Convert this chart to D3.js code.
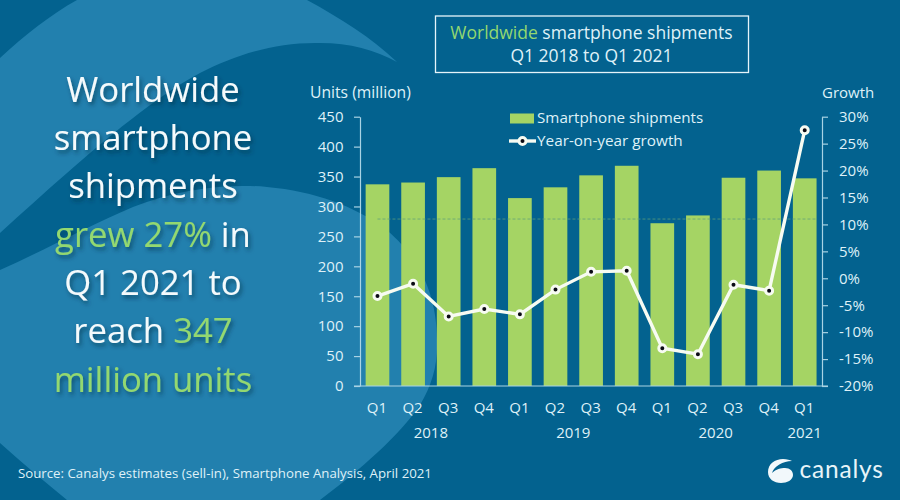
<!DOCTYPE html>
<html><head><meta charset="utf-8">
<script src="https://cdn.jsdelivr.net/npm/d3@7/dist/d3.min.js"></script>
<style>html,body{margin:0;padding:0;background:#03628f}svg{display:block}text{font-family:"Open Sans",sans-serif}</style>
</head><body><svg id="c" width="900" height="500"></svg>
<script>
const quarters=["Q1","Q2","Q3","Q4","Q1","Q2","Q3","Q4","Q1","Q2","Q3","Q4","Q1"];
const years=["2018","2018","2018","2018","2019","2019","2019","2019","2020","2020","2020","2020","2021"];
const shipments=[337,340,349,364,314,332,352,368,272,285,348,360,347];
const growth=[-3.3,-1.0,-7.1,-5.7,-6.7,-2.1,1.2,1.4,-13.0,-14.1,-1.2,-2.3,27.5];
const unitTicks=[0,50,100,150,200,250,300,350,400,450];
const growthTicks=[-20,-15,-10,-5,0,5,10,15,20,25,30];
const referenceLevel=[279];
const headline=[
 [["Worldwide",0]],[["smartphone",0]],[["shipments",0]],
 [["grew 27%",1],[" in",0]],[["Q1 2021 to",0]],[["reach ",0],["347",1]],[["million units",1]]];
const BG="#03628f",LIGHT="#2280ae",GREEN="#a5d464",TXT="#dff1f8",HL="#93d870",WHITE="#f7fbf2";

const svg=d3.select("#c");
const defs=svg.append("defs");
const f=defs.append("filter").attr("id","sh").attr("x","-10%").attr("y","-20%").attr("width","120%").attr("height","150%");
f.append("feDropShadow").attr("dx",2).attr("dy",3).attr("stdDeviation",2.2).attr("flood-color","#012a40").attr("flood-opacity",.6);

svg.append("rect").attr("width",900).attr("height",500).attr("fill",BG);
svg.append("path").attr("fill",LIGHT).attr("d",
 "M0,58 C25,35 50,15 77,0 L307,0 C340,18 372,38 397,62 C375,50 350,43 320,43 C275,42 235,55 200,73 C155,97 105,140 67,173 C45,192 22,213 0,233 Z");
svg.append("path").attr("fill",LIGHT).attr("d",
 "M0,270 C45,250 90,225 133,207 C175,190 225,183 267,187 C315,191 355,207 383,227 C415,252 437,290 437,340 C438,365 432,385 420,405 C400,435 360,470 320,500 L67,500 C45,482 22,463 0,443 Z");

const x=d3.scaleBand().domain(d3.range(quarters.length)).range([359.7,822.5]).paddingInner(.335).paddingOuter(.167);
const y=d3.scaleLinear().domain([0,450]).range([386,116.7]);
const yr=d3.scaleLinear().domain([-20,30]).range([386,116.7]);
const cx=i=>x(i)+x.bandwidth()/2;

svg.append("g").selectAll("rect").data(shipments).join("rect")
 .attr("x",(d,i)=>x(i)).attr("width",x.bandwidth()).attr("y",d=>y(d)).attr("height",d=>y(0)-y(d)).attr("fill",GREEN);

svg.append("line").attr("x1",cx(0)).attr("x2",cx(12)+12).attr("y1",y(referenceLevel[0])).attr("y2",y(referenceLevel[0]))
 .attr("stroke","#5f9f78").attr("stroke-width",1).attr("stroke-dasharray","3 2").attr("opacity",.75);

const axisStyle=g=>{g.select(".domain").attr("stroke","#a9d3e4").attr("stroke-width",1.2);
 g.selectAll(".tick line").attr("stroke","#a9d3e4").attr("stroke-width",1.2);
 g.selectAll("text").attr("fill",TXT).attr("font-size",15);};
svg.append("g").attr("transform","translate(360,0)")
 .call(d3.axisLeft(y).tickValues(unitTicks).tickSize(6).tickSizeOuter(0).tickPadding(10.5)).call(axisStyle);
svg.append("g").attr("transform","translate(822,0)")
 .call(d3.axisRight(yr).tickValues(growthTicks).tickFormat(d=>d+"%").tickSize(6).tickSizeOuter(0).tickPadding(11)).call(axisStyle);
svg.append("line").attr("x1",354).attr("x2",828).attr("y1",386).attr("y2",386).attr("stroke","#a9d3e4").attr("stroke-width",1.2);

svg.append("g").selectAll("text").data(quarters).join("text")
 .attr("x",(d,i)=>cx(i)-.5).attr("y",413).attr("text-anchor","middle").attr("fill",TXT).attr("font-size",15).text(d=>d);
const groups=d3.groups(years.map((v,i)=>[v,i]),d=>d[0]);
svg.append("g").selectAll("text").data(groups).join("text")
 .attr("x",d=>d3.mean(d[1],e=>cx(e[1]))).attr("y",438).attr("text-anchor","middle").attr("fill",TXT).attr("font-size",15).text(d=>d[0]);

const line=d3.line().x((d,i)=>cx(i)).y(d=>yr(d));
svg.append("path").attr("d",line(growth)).attr("fill","none").attr("stroke",WHITE).attr("stroke-width",3.4);
svg.append("g").selectAll("circle").data(growth).join("circle").attr("cx",(d,i)=>cx(i)).attr("cy",d=>yr(d)).attr("r",3.5)
 .attr("fill","#0a0a14").attr("stroke",WHITE).attr("stroke-width",3);

svg.append("text").attr("x",310).attr("y",98).attr("fill",TXT).attr("font-size",15.7).text("Units (million)");
svg.append("text").attr("x",822).attr("y",98).attr("fill",TXT).attr("font-size",15).text("Growth");

svg.append("rect").attr("x",510).attr("y",113.5).attr("width",24).attr("height",10).attr("fill",GREEN);
svg.append("text").attr("x",537).attr("y",123).attr("fill",TXT).attr("font-size",15.2).text("Smartphone shipments");
svg.append("line").attr("x1",509).attr("x2",536).attr("y1",141).attr("y2",141).attr("stroke",WHITE).attr("stroke-width",3.4);
svg.append("circle").attr("cx",522.5).attr("cy",141).attr("r",3.5).attr("fill","#0a0a14").attr("stroke",WHITE).attr("stroke-width",3);
svg.append("text").attr("x",537).attr("y",146).attr("fill",TXT).attr("font-size",15.3).text("Year-on-year growth");

svg.append("rect").attr("x",435.5).attr("y",16).attr("width",313).attr("height",56.5).attr("fill","none").attr("stroke","#e6f4fa").attr("stroke-width",1.3);
const t1=svg.append("text").attr("x",591.5).attr("y",39).attr("text-anchor","middle").attr("font-size",17.5);
t1.append("tspan").attr("fill",HL).text("Worldwide");
t1.append("tspan").attr("fill",TXT).text(" smartphone shipments");
svg.append("text").attr("x",591.5).attr("y",62).attr("text-anchor","middle").attr("font-size",17.5).attr("fill",TXT).text("Q1 2018 to Q1 2021");

const hl=svg.append("g").attr("filter","url(#sh)");
const baselines=[102,150,198,247,295,343,392];
headline.forEach((parts,i)=>{
 const t=hl.append("text").attr("x",153).attr("y",baselines[i]).attr("text-anchor","middle").attr("font-size",34.7).attr("xml:space","preserve");
 parts.forEach(p=>t.append("tspan").attr("fill",p[1]?HL:"#f4fafc").text(p[0]));
});

svg.append("text").attr("x",18).attr("y",478).attr("fill",TXT).attr("font-size",13.25).text("Source: Canalys estimates (sell-in), Smartphone Analysis, April 2021");

svg.append("path").attr("fill","#f2f8fb").attr("d","M768,472 C768,464 775,459 783,459 C787,459 790,460 792,461 C783,461 774,466 772,473 C776,469 781,468 785,468 C790,468 793,471 793,475 C793,480 787,483 781,483 C774,483 768,479 768,472 Z");
svg.append("text").attr("x",799.5).attr("y",478).attr("fill","#e8f4f9").attr("font-size",24.5).attr("style","font-family:Lato,sans-serif").attr("letter-spacing",.8).text("canalys");
</script></body></html>
